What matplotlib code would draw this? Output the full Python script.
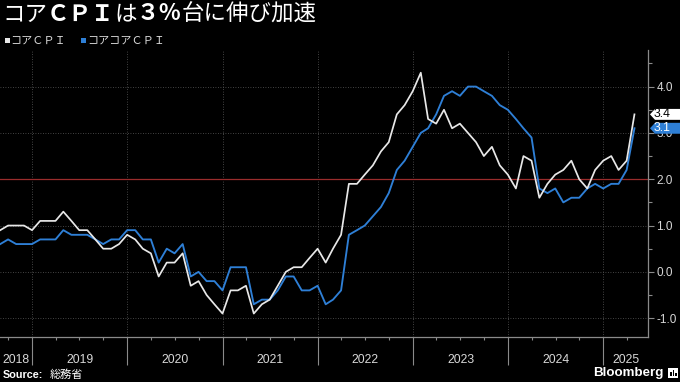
import matplotlib
matplotlib.use("Agg")
import matplotlib.pyplot as plt
import matplotlib.dates as mdates
import matplotlib.transforms as mtransforms
from matplotlib.patches import Polygon, Rectangle
from matplotlib.ticker import MultipleLocator, FormatStrFormatter
import pandas as pd

plt.rcParams['axes.unicode_minus'] = False

# monthly, Aug 2018 - Apr 2025 (y/y %)
months = pd.date_range('2018-08-31', '2025-04-30', freq='ME')
core_cpi = [0.9, 1.0, 1.0, 1.0, 0.9,
            1.1, 1.1, 1.1, 1.3, 1.1, 0.9, 0.9, 0.7, 0.5, 0.5, 0.6, 0.8,
            0.7, 0.5, 0.4, -0.1, 0.2, 0.2, 0.4, -0.3, -0.2, -0.5, -0.7, -0.9,
            -0.4, -0.4, -0.3, -0.9, -0.7, -0.6, -0.3, 0.0, 0.1, 0.1, 0.3, 0.5,
            0.2, 0.5, 0.8, 1.9, 1.9, 2.1, 2.3, 2.6, 2.8, 3.4, 3.6, 3.9,
            4.3, 3.3, 3.2, 3.5, 3.1, 3.2, 3.0, 2.8, 2.5, 2.7, 2.3, 2.1,
            1.8, 2.5, 2.4, 1.6, 1.9, 2.1, 2.2, 2.4, 2.0, 1.8, 2.2, 2.4,
            2.5, 2.2, 2.4, 3.4]
core_core_cpi = [0.6, 0.7, 0.6, 0.6, 0.6,
                 0.7, 0.7, 0.7, 0.9, 0.8, 0.8, 0.8, 0.7, 0.6, 0.7, 0.7, 0.9,
                 0.9, 0.7, 0.7, 0.2, 0.5, 0.4, 0.6, -0.1, 0.0, -0.2, -0.2, -0.4,
                 0.1, 0.1, 0.1, -0.7, -0.6, -0.6, -0.4, -0.1, -0.1, -0.4, -0.4, -0.3,
                 -0.7, -0.6, -0.4, 0.8, 0.9, 1.0, 1.2, 1.4, 1.7, 2.2, 2.4, 2.7,
                 3.0, 3.1, 3.4, 3.8, 3.9, 3.8, 4.0, 4.0, 3.9, 3.8, 3.6, 3.5,
                 3.3, 3.1, 2.9, 1.8, 1.7, 1.8, 1.5, 1.6, 1.6, 1.8, 1.9, 1.8,
                 1.9, 1.9, 2.2, 3.1]
series_names = ['コアＣＰＩ', 'コアコアＣＰＩ']
years = list(range(2018, 2026))
target = 2.0

WHITE = '#e8e8e8'
BLUE = '#2e7fd6'
RED = '#9a2c2c'
GRID = '#5a5a5a'
TXT = '#d8d8d8'
JP = ['Noto Sans CJK JP', 'DejaVu Sans']
LAT = ['Liberation Sans', 'DejaVu Sans']

fig = plt.figure(figsize=(6.8, 3.82), dpi=100, facecolor='black')
ax = fig.add_axes([0, 1 - 336.7 / 382, 648 / 680, (336.7 - 50) / 382])
ax.set_facecolor('black')

ax.plot(months, core_cpi, color=WHITE, lw=1.25, zorder=4)
ax.plot(months, core_core_cpi, color=BLUE, lw=1.35, zorder=3)
ax.axhline(target, color=RED, lw=0.9, zorder=2)

xmin = mdates.date2num(pd.Timestamp('2018-08-30'))
xmax = mdates.date2num(pd.Timestamp('2025-06-21'))
ax.set_xlim(xmin, xmax)
ax.set_ylim(-1.40, 4.79)

for s in ['left', 'top']:
    ax.spines[s].set_visible(False)
for s in ['right', 'bottom']:
    ax.spines[s].set_color('#8a8a8a')
    ax.spines[s].set_linewidth(0.9)

# y axis on the right
ax.yaxis.tick_right()
ax.yaxis.set_major_locator(MultipleLocator(1.0))
ax.yaxis.set_minor_locator(MultipleLocator(0.5))
ax.yaxis.set_major_formatter(FormatStrFormatter('%.1f'))
ax.tick_params(axis='y', which='major', length=4, width=0.8, color='#8a8a8a',
               labelcolor=TXT, labelsize=8.5, pad=2)
ax.tick_params(axis='y', which='minor', length=3, width=0.8, color='#8a8a8a')
for lab in ax.get_yticklabels():
    lab.set_family(LAT)

# x axis: year separators and quarter ticks
year_starts = [mdates.date2num(pd.Timestamp(f'{y}-01-01')) for y in years[1:]]
ax.set_xticks(year_starts)
ax.set_xticklabels([])
ax.xaxis.set_minor_locator(mdates.MonthLocator(bymonth=[4, 7, 10]))
ax.tick_params(axis='x', which='major', length=20, width=0.8, color='#8a8a8a')
ax.tick_params(axis='x', which='minor', length=2, width=0.8, color='#8a8a8a')

ax.grid(True, which='major', axis='both', color=GRID, lw=0.6, ls=(0, (1, 2)))
ax.set_axisbelow(True)

xt = mtransforms.blended_transform_factory(ax.transData, ax.transAxes)
for y in years:
    lo = max(xmin, mdates.date2num(pd.Timestamp(f'{y}-01-01')))
    hi = min(xmax, mdates.date2num(pd.Timestamp(f'{y + 1}-01-01')))
    ax.text((lo + hi) / 2, -23 / 286.7, str(y), transform=xt, ha='center',
            va='center', color=TXT, fontsize=8.8, family=LAT)

# value tags at right edge
tt = mtransforms.blended_transform_factory(fig.transFigure, ax.transData)
h = 0.118
for val, fc, tc in [(core_cpi[-1], 'white', 'black'), (core_core_cpi[-1], BLUE, 'white')]:
    pts = [(650 / 680, val), (655 / 680, val + h), (1.0, val + h),
           (1.0, val - h), (655 / 680, val - h)]
    fig.add_artist(Polygon(pts, closed=True, transform=tt, facecolor=fc,
                           edgecolor='none', zorder=5, clip_on=False))
    fig.text(654 / 680, val, f'{val:.1f}', transform=tt, color=tc, fontsize=8.8,
             family=LAT, va='center', ha='left', zorder=6)

# title, built piece by piece (latin parts are heavier)
fig.canvas.draw()
renderer = fig.canvas.get_renderer()
title_parts = [('コア', False), ('ＣＰＩ', True), ('は', False), ('３％', True),
               ('台に伸び加速', False)]
x = 2 / 680
for seg, bold in title_parts:
    t = fig.text(x, 1 - 14 / 382, seg, color='white', fontsize=16.2,
                 fontweight='bold' if bold else 'normal', family=JP,
                 va='center', ha='left')
    x += t.get_window_extent(renderer).width / fig.bbox.width

# legend
for sx, tx, name, col in [(5, 10, series_names[0], WHITE), (81, 87, series_names[1], BLUE)]:
    fig.add_artist(Rectangle((sx / 680, 1 - 43 / 382), 4.5 / 680, 4.5 / 382,
                             transform=fig.transFigure, facecolor=col, edgecolor='none'))
    fig.text(tx / 680, 1 - 40.5 / 382, name, color=TXT, fontsize=8, family=JP,
             va='center', ha='left')

# footer
fig.text(3 / 680, 1 - 375 / 382, 'Source:', color='white', fontsize=7.8,
         fontweight='bold', family=LAT, va='center', ha='left')
fig.text(50 / 680, 1 - 375 / 382, '総務省', color='white', fontsize=8, family=JP,
         va='center', ha='left')
fig.text(663 / 680, 1 - 373 / 382, 'Bloomberg', color='white', fontsize=9.6,
         fontweight='bold', family=LAT, va='center', ha='right')
fig.add_artist(Rectangle((668 / 680, 1 - 378 / 382), 10 / 680, 10 / 382,
                         transform=fig.transFigure, facecolor='white', edgecolor='none'))
for bx, bh in [(670, 4), (672.5, 6), (675, 3)]:
    fig.add_artist(Rectangle((bx / 680, 1 - 376 / 382), 1.5 / 680, bh / 382,
                             transform=fig.transFigure, facecolor='black', edgecolor='none'))

fig.savefig('out.png', dpi=100, facecolor='black')
